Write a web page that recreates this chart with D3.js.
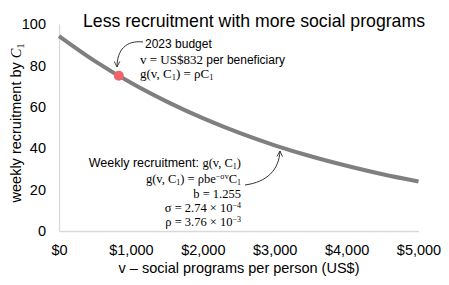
<!DOCTYPE html>
<html>
<head>
<meta charset="utf-8">
<script src="https://cdn.jsdelivr.net/npm/d3@7"></script>
<style>
  html, body { margin: 0; padding: 0; background: #fff; }
  svg { display: block; }
  .sans { font-family: "Liberation Sans", Arial, sans-serif; }
  .math { font-family: "Liberation Serif", "Times New Roman", serif; }
</style>
</head>
<body>
<svg id="chart" width="449" height="285"></svg>
<script>
// ---- Data ----
const spend = [0, 500, 1000, 1500, 2000, 2500, 3000, 3500, 4000, 4500, 5000];
const recruitment = [94.2, 82.1, 71.6, 62.5, 54.5, 47.5, 41.4, 36.1, 31.5, 27.4, 23.9];
const budgetSpend = [832];
const budgetRecruit = [75];
const xTicks = [0, 1000, 2000, 3000, 4000, 5000];
const yTicks = [0, 20, 40, 60, 80, 100];
const titleText = "Less recruitment with more social programs";
const xTitle = "v \u2013 social programs per person (US$)";

const svg = d3.select("#chart");
const x = d3.scaleLinear().domain([0, 5000]).range([59, 418.5]);
const y = d3.scaleLinear().domain([0, 100]).range([231, 24]);

// axes lines
const xAxis = d3.axisBottom(x).tickValues(xTicks).tickSize(0).tickPadding(10)
  .tickFormat(d => "$" + d3.format(",")(d));
const gx = svg.append("g").attr("transform", `translate(0,${y(0)})`).call(xAxis);
gx.select(".domain").attr("stroke", "#d9d9d9").attr("stroke-width", 1.3);
gx.selectAll("text").attr("class", "sans").attr("font-size", 14.5).attr("fill", "#000")
  .attr("dy", "0.71em").attr("y", 14);

const yAxis = d3.axisLeft(y).tickValues(yTicks).tickSize(0).tickPadding(13);
const gy = svg.append("g").attr("transform", `translate(${x(0)},0)`).call(yAxis);
gy.select(".domain").attr("stroke", "#d9d9d9").attr("stroke-width", 1.3);
gy.selectAll("text").attr("class", "sans").attr("font-size", 14.5).attr("fill", "#000");

// curve
const pts = spend.map((v, i) => [v, recruitment[i]]);
svg.append("path").datum(pts)
  .attr("fill", "none").attr("stroke", "#7f7f7f").attr("stroke-width", 4)
  .attr("d", d3.line().x(d => x(d[0])).y(d => y(d[1])).curve(d3.curveMonotoneX));

// budget point
svg.selectAll("circle.b").data(budgetSpend).enter().append("circle")
  .attr("cx", d => x(d)).attr("cy", (d, i) => y(budgetRecruit[i])).attr("r", 5)
  .attr("fill", "#f0646c");

// title
svg.append("text").attr("class", "sans").attr("x", 254).attr("y", 27)
  .attr("text-anchor", "middle").attr("font-size", 17.7).text(titleText);

// axis titles
svg.append("text").attr("class", "sans").attr("x", 239).attr("y", 273)
  .attr("text-anchor", "middle").attr("font-size", 14.5).text(xTitle);

const yl = svg.append("text").attr("class", "sans")
  .attr("transform", "translate(21,123) rotate(-90)")
  .attr("text-anchor", "middle").attr("font-size", 14.5);
yl.append("tspan").text("weekly recruitment by ");
yl.append("tspan").attr("class", "math").attr("font-style", "italic").text("C");
yl.append("tspan").attr("class", "math").attr("font-size", 10).attr("dy", 3).text("1");

// arrow marker
const defs = svg.append("defs");
defs.append("marker").attr("id", "arr").attr("viewBox", "0 0 10 10")
  .attr("refX", 9).attr("refY", 5).attr("markerWidth", 7).attr("markerHeight", 7)
  .attr("orient", "auto")
  .append("path").attr("d", "M1,1 L9,5 L1,9").attr("fill", "none")
  .attr("stroke", "#333").attr("stroke-width", 1.3);

svg.append("path").attr("d", "M143,42 C126,40 117,50 117,67")
  .attr("fill", "none").attr("stroke", "#333").attr("stroke-width", 1)
  .attr("marker-end", "url(#arr)");
svg.append("path").attr("d", "M245,185 C267,182 279,170 280,151")
  .attr("fill", "none").attr("stroke", "#333").attr("stroke-width", 1)
  .attr("marker-end", "url(#arr)");

// annotation 1
svg.append("text").attr("class", "sans").attr("x", 145).attr("y", 48)
  .attr("font-size", 12).text("2023 budget");
const a2 = svg.append("text").attr("x", 140).attr("y", 63.5).attr("font-size", 13);
a2.append("tspan").attr("class", "math").text("v = US$832 ");
a2.append("tspan").attr("class", "sans").attr("font-size", 12).text("per beneficiary");
const a3 = svg.append("text").attr("class", "math").attr("x", 140).attr("y", 78).attr("font-size", 13);
a3.append("tspan").text("g(v, C");
a3.append("tspan").attr("font-size", 8.5).attr("dy", 2).text("1");
a3.append("tspan").attr("dy", -2).text(") = ρC");
a3.append("tspan").attr("font-size", 8.5).attr("dy", 2).text("1");

// annotation 2 (right aligned)
const rx = 241;
const fs = 12.5, sfs = 8;
const b1 = svg.append("text").attr("x", rx).attr("y", 167).attr("text-anchor", "end").attr("font-size", fs);
b1.append("tspan").attr("class", "sans").attr("font-size", 12.5).text("Weekly recruitment: ");
b1.append("tspan").attr("class", "math").text("g(v, C");
b1.append("tspan").attr("class", "math").attr("font-size", sfs).attr("dy", 2).text("1");
b1.append("tspan").attr("class", "math").attr("dy", -2).text(")");

const b2 = svg.append("text").attr("class", "math").attr("x", rx).attr("y", 183).attr("text-anchor", "end").attr("font-size", fs);
b2.append("tspan").text("g(v, C");
b2.append("tspan").attr("font-size", sfs).attr("dy", 2).text("1");
b2.append("tspan").attr("dy", -2).text(") = ρbe");
b2.append("tspan").attr("font-size", sfs).attr("dy", -4).text("−σv");
b2.append("tspan").attr("dy", 4).text("C");
b2.append("tspan").attr("font-size", sfs).attr("dy", 2).text("1");

svg.append("text").attr("class", "math").attr("x", rx).attr("y", 197.5).attr("text-anchor", "end")
  .attr("font-size", fs).text("b = 1.255");

const b4 = svg.append("text").attr("class", "math").attr("x", rx).attr("y", 211.5).attr("text-anchor", "end").attr("font-size", fs);
b4.append("tspan").text("σ = 2.74 × 10");
b4.append("tspan").attr("font-size", sfs).attr("dy", -4).text("−4");

const b5 = svg.append("text").attr("class", "math").attr("x", rx).attr("y", 225.5).attr("text-anchor", "end").attr("font-size", fs);
b5.append("tspan").text("ρ = 3.76 × 10");
b5.append("tspan").attr("font-size", sfs).attr("dy", -4).text("−3");
</script>
</body>
</html>
